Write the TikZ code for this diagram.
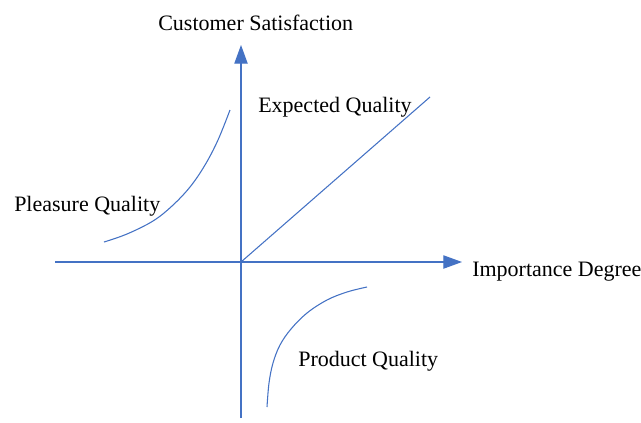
\documentclass[tikz,border=0pt]{standalone}
\usepackage{fontspec}
\setmainfont{Liberation Serif}
\usetikzlibrary{arrows.meta}
\definecolor{lineblue}{HTML}{4472C4}
\begin{document}
\begin{tikzpicture}[x=0.75pt,y=-0.75pt,
  axis/.style={draw=lineblue,line width=0.8pt,-{Triangle[length=14pt,width=10pt]}},
  curve/.style={draw=lineblue,line width=0.8pt},
  lbl/.style={anchor=base west,inner sep=0pt,font=\fontsize{16.5}{19}\selectfont}]
\useasboundingbox (0,0) rectangle (641,422);
\coordinate (o) at (241,262);
\coordinate (yb) at (241,418);
\coordinate (yt) at (241,45);
\coordinate (xl) at (55,262);
\coordinate (xr) at (462,262);
\coordinate (eq) at (430,97);
\draw[axis] (yb) -- (yt);
\draw[axis] (xl) -- (xr);
\draw[curve] (o) -- (eq);
\draw[curve] plot[smooth,tension=0.6] coordinates {(104,242) (127,234) (153,221) (172,206) (190,187) (205,165) (218,140) (230,110)};
\draw[curve] plot[smooth,tension=0.6] coordinates {(367,287) (347,292) (327,300) (307,313) (291,329) (280,345) (273,363) (269,383) (267,407)};
\node[lbl] (cs) at (158,30) {Customer Satisfaction};
\node[lbl] (exq) at (258,112) {Expected Quality};
\node[lbl] (pq) at (14,211) {Pleasure Quality};
\node[lbl] (id) at (472,276) {Importance Degree};
\node[lbl] (prq) at (298,366) {Product Quality};
\end{tikzpicture}
\end{document}
